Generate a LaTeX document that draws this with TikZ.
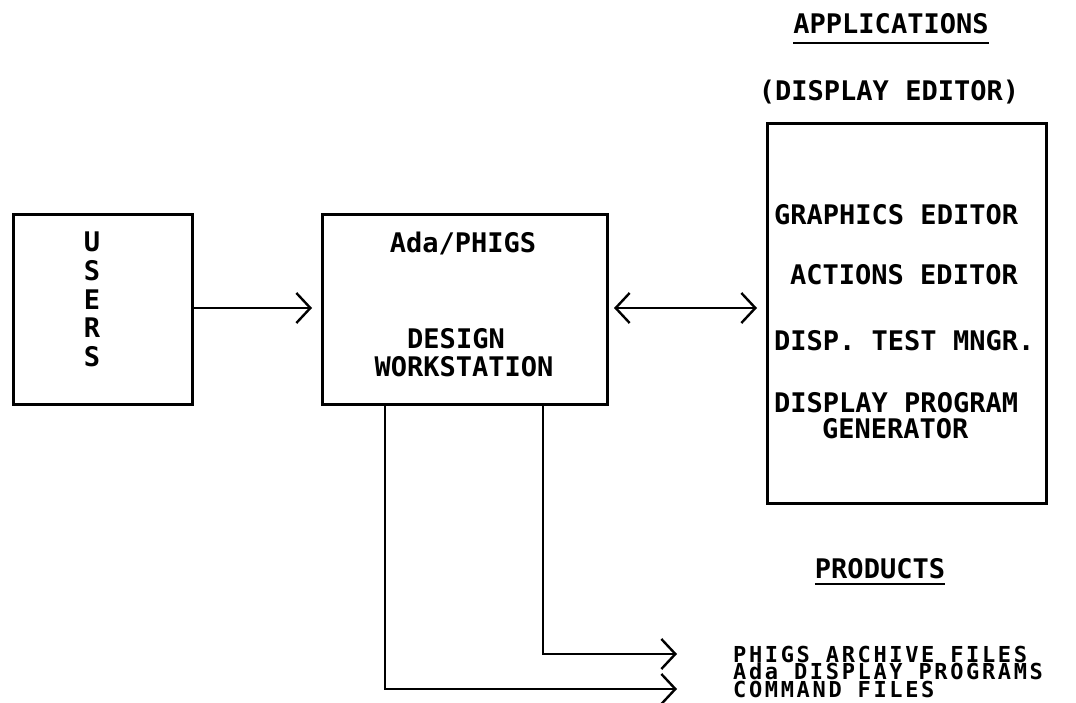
\documentclass[tikz,border=0pt]{standalone}
\usepackage{fontspec}
\newfontfamily\mono{DejaVu Sans Mono Bold}
\newfontfamily\monolist[LetterSpace=12]{DejaVu Sans Mono Bold}
\usetikzlibrary{arrows.meta}
\begin{document}
\begin{tikzpicture}[x=1pt,y=-1pt,
  box/.style={draw, line width=2.6pt, inner sep=0pt, anchor=north west},
  lbl/.style={font=\mono\fontsize{27}{28.7}\selectfont, inner sep=0pt},
  plist/.style={font=\monolist\fontsize{22}{17.3}\selectfont, inner sep=0pt, align=left},
  barb/.tip={Straight Barb[length=14pt,width=30pt,line width=2.4pt]},
  flow/.style={line width=2.4pt, -barb},
  both/.style={line width=2.4pt, barb-barb},
  uline/.style={line width=2.2pt}]
\useasboundingbox (0,0) rectangle (1076,703);

% boxes
\node[box, minimum width=179pt, minimum height=190pt] (users) at (12,213) {};
\node[box, minimum width=285pt, minimum height=190pt] (dws) at (321,213) {};
\node[box, minimum width=279pt, minimum height=380pt] (apps) at (766,122) {};

% users column
\node[lbl, align=center, anchor=north] (usertxt) at (92,232) {U\\S\\E\\R\\S};

% design workstation
\node[lbl, anchor=base] (adaphigs) at (463,253) {Ada/PHIGS};
\node[lbl, anchor=base] (design) at (456,348) {DESIGN};
\node[lbl, anchor=base] (wkstn) at (464,376) {WORKSTATION};

% applications
\node[lbl, anchor=base] (apphead) at (891,34) {APPLICATIONS};
\draw[uline] (apphead.base west) ++(0,9) coordinate (au1) -- (apphead.base east |- au1);
\node[lbl, anchor=base] (dispeditor) at (889,101) {(DISPLAY EDITOR)};
\node[lbl, anchor=base west] (gedit) at (774,225) {GRAPHICS EDITOR};
\node[lbl, anchor=base west] (aedit) at (790,285) {ACTIONS EDITOR};
\node[lbl, anchor=base west] (dtm) at (774,350) {DISP. TEST MNGR.};
\node[lbl, anchor=base west] (dpg) at (774,412) {DISPLAY PROGRAM};
\node[lbl, anchor=base west] (gen) at (822,438) {GENERATOR};

% products
\node[lbl, anchor=base] (prodhead) at (880,578) {PRODUCTS};
\draw[uline] (prodhead.base west) ++(0,6) coordinate (pu1) -- (prodhead.base east |- pu1);
\node[plist, anchor=north west] (prodlist) at (733,646)
  {PHIGS ARCHIVE FILES\\Ada DISPLAY PROGRAMS\\COMMAND FILES};

% connectors
\coordinate (uin) at (312,308);
\draw[flow] (users.east |- uin) -- (uin);
\coordinate (bl) at (614,308);
\coordinate (br) at (757,308);
\draw[both] (bl) -- (br);
\coordinate (t1) at (677,654);
\coordinate (t2) at (677,689);
\draw[flow] (dws.south -| 543,0) -- (543,654) -- (t1);
\draw[flow] (dws.south -| 385,0) -- (385,689) -- (t2);
\end{tikzpicture}
\end{document}
